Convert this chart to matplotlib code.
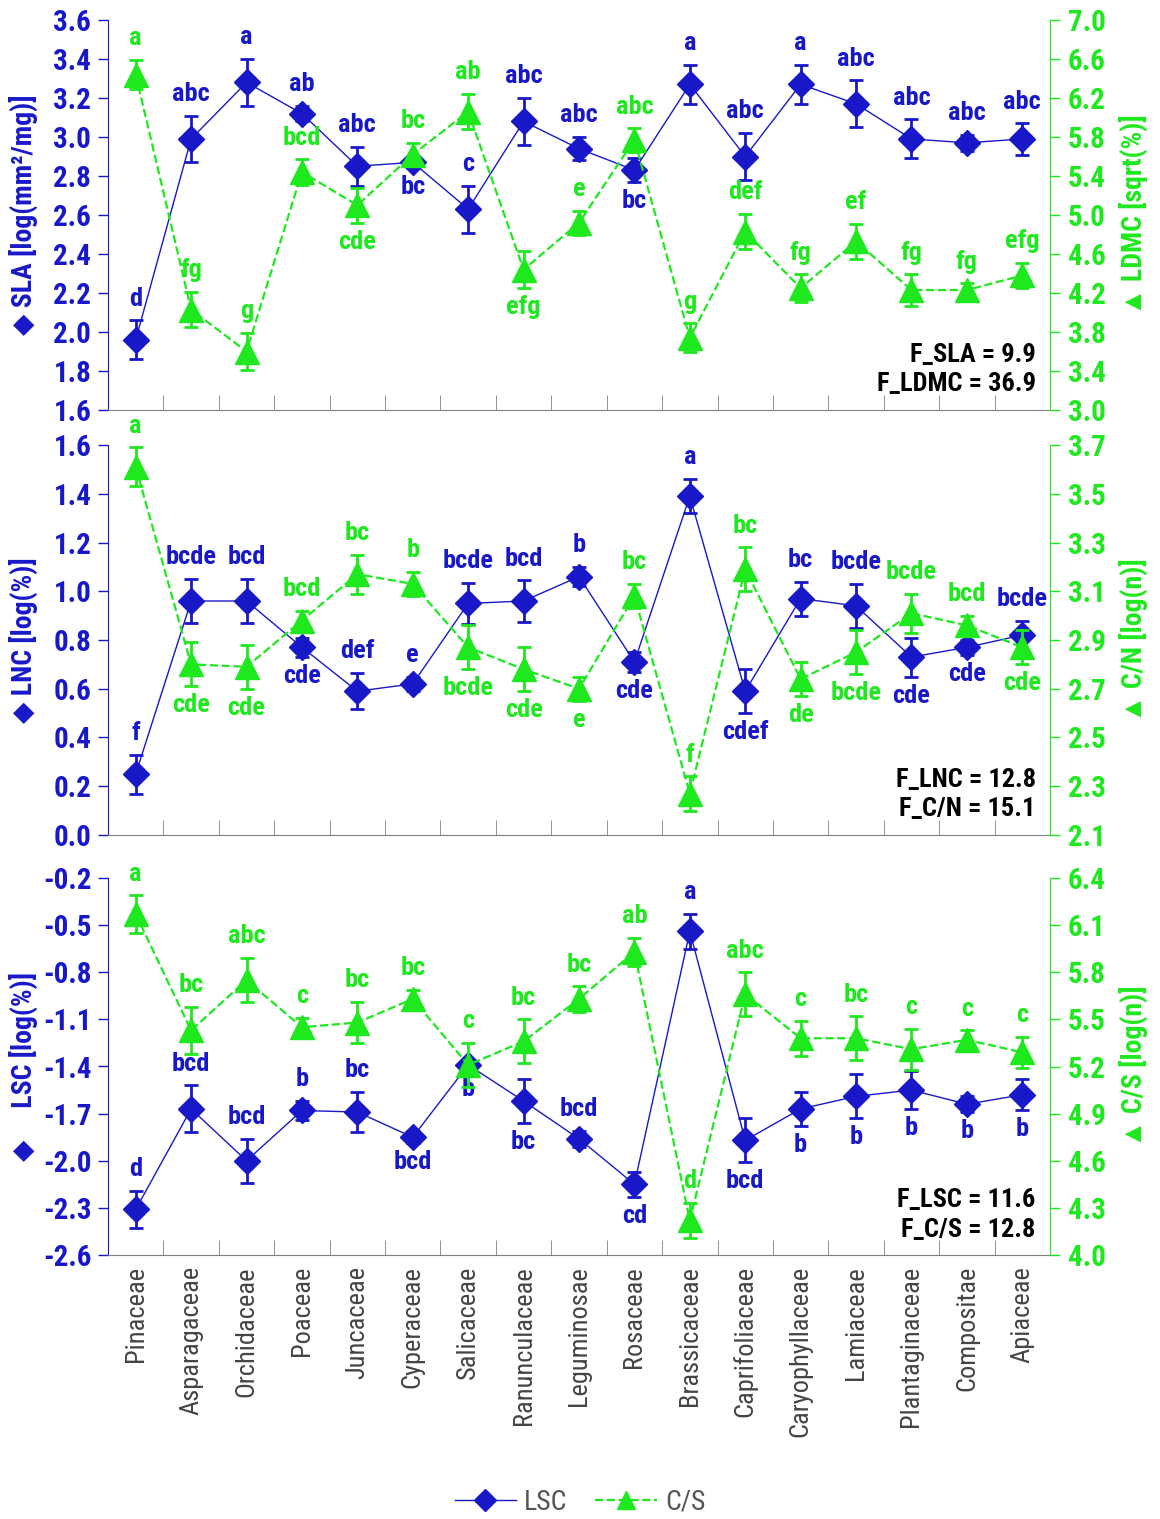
import numpy as np
import matplotlib.pyplot as plt
from matplotlib import font_manager
from matplotlib.lines import Line2D

# pick a narrow sans family if one is installed
installed = {f.name for f in font_manager.fontManager.ttflist}
narrow = [n for n in ['Liberation Sans Narrow', 'Roboto Condensed', 'Noto Sans Condensed',
                      'Open Sans Condensed', 'Noto Sans Display Condensed'] if n in installed]
plt.rcParams['font.family'] = narrow[:1] + ['Liberation Sans', 'DejaVu Sans']
NARROW = bool(narrow)

BLUE = '#1818c8'
GREEN = '#1ee81e'
GREY = '#555555'

families = ['Pinaceae', 'Asparagaceae', 'Orchidaceae', 'Poaceae', 'Juncaceae',
            'Cyperaceae', 'Salicaceae', 'Ranunculaceae', 'Leguminosae', 'Rosaceae',
            'Brassicaceae', 'Caprifoliaceae', 'Caryophyllaceae', 'Lamiaceae',
            'Plantaginaceae', 'Compositae', 'Apiaceae']

# panel 1: SLA (left) and LDMC (right)
sla = [1.96, 2.99, 3.28, 3.12, 2.85, 2.87, 2.63, 3.08, 2.94, 2.83, 3.27, 2.90, 3.27, 3.17, 2.99, 2.97, 2.99]
sla_err = [0.10, 0.12, 0.12, 0.04, 0.10, 0.03, 0.12, 0.12, 0.06, 0.06, 0.10, 0.12, 0.10, 0.12, 0.10, 0.04, 0.08]
sla_let = ['d', 'abc', 'a', 'ab', 'abc', 'bc', 'c', 'abc', 'abc', 'bc', 'a', 'abc', 'a', 'abc', 'abc', 'abc', 'abc']
sla_side = ['u', 'u', 'u', 'u', 'u', 'd', 'u', 'u', 'u', 'd', 'u', 'u', 'u', 'u', 'u', 'u', 'u']

ldmc = [6.44, 4.03, 3.60, 5.44, 5.10, 5.62, 6.06, 4.44, 4.92, 5.77, 3.74, 4.83, 4.25, 4.73, 4.23, 4.23, 4.38]
ldmc_err = [0.15, 0.18, 0.19, 0.13, 0.18, 0.12, 0.18, 0.19, 0.12, 0.12, 0.15, 0.18, 0.14, 0.18, 0.16, 0.07, 0.13]
ldmc_let = ['a', 'fg', 'g', 'bcd', 'cde', 'bc', 'ab', 'efg', 'e', 'abc', 'g', 'def', 'fg', 'ef', 'fg', 'fg', 'efg']
ldmc_side = ['u', 'u', 'u', 'u', 'd', 'u', 'u', 'd', 'u', 'u', 'u', 'u', 'u', 'u', 'u', 'u', 'u']

# panel 2: LNC (left) and C/N (right)
lnc = [0.25, 0.96, 0.96, 0.77, 0.59, 0.62, 0.95, 0.96, 1.06, 0.71, 1.39, 0.59, 0.97, 0.94, 0.73, 0.77, 0.82]
lnc_err = [0.08, 0.09, 0.09, 0.04, 0.075, 0.03, 0.085, 0.085, 0.04, 0.04, 0.07, 0.09, 0.07, 0.09, 0.08, 0.03, 0.06]
lnc_let = ['f', 'bcde', 'bcd', 'cde', 'def', 'e', 'bcde', 'bcd', 'b', 'cde', 'a', 'cdef', 'bc', 'bcde', 'cde', 'cde', 'bcde']
lnc_side = ['u', 'u', 'u', 'd', 'u', 'u', 'u', 'u', 'u', 'd', 'u', 'd', 'u', 'u', 'd', 'd', 'u']

cn = [3.61, 2.80, 2.79, 2.98, 3.17, 3.13, 2.87, 2.78, 2.70, 3.08, 2.27, 3.19, 2.74, 2.85, 3.01, 2.96, 2.87]
cn_err = [0.08, 0.09, 0.09, 0.04, 0.08, 0.05, 0.09, 0.09, 0.05, 0.05, 0.07, 0.09, 0.07, 0.09, 0.08, 0.04, 0.07]
cn_let = ['a', 'cde', 'cde', 'bcd', 'bc', 'b', 'bcde', 'cde', 'e', 'bc', 'f', 'bc', 'de', 'bcde', 'bcde', 'bcd', 'cde']
cn_side = ['u', 'd', 'd', 'u', 'u', 'u', 'd', 'd', 'd', 'u', 'u', 'u', 'd', 'd', 'u', 'u', 'd']

# panel 3: LSC (left) and C/S (right)
lsc = [-2.31, -1.67, -2.00, -1.68, -1.69, -1.85, -1.39, -1.62, -1.86, -2.15, -0.54, -1.87, -1.67, -1.59, -1.55, -1.64, -1.58]
lsc_err = [0.12, 0.15, 0.14, 0.06, 0.13, 0.04, 0.03, 0.14, 0.05, 0.08, 0.11, 0.14, 0.11, 0.14, 0.12, 0.05, 0.10]
lsc_let = ['d', 'bcd', 'bcd', 'b', 'bc', 'bcd', 'b', 'bc', 'bcd', 'cd', 'a', 'bcd', 'b', 'b', 'b', 'b', 'b']
lsc_side = ['u', 'u', 'u', 'u', 'u', 'd', 'd', 'd', 'u', 'd', 'u', 'd', 'd', 'd', 'd', 'd', 'd']

cs = [6.17, 5.43, 5.75, 5.45, 5.48, 5.63, 5.21, 5.36, 5.63, 5.93, 4.22, 5.66, 5.38, 5.38, 5.31, 5.37, 5.29]
cs_err = [0.12, 0.15, 0.14, 0.06, 0.13, 0.06, 0.14, 0.14, 0.08, 0.09, 0.11, 0.14, 0.11, 0.14, 0.13, 0.06, 0.10]
cs_let = ['a', 'bc', 'abc', 'c', 'bc', 'bc', 'c', 'bc', 'bc', 'ab', 'd', 'abc', 'c', 'bc', 'c', 'c', 'c']
cs_side = ['u'] * 17

# sizes: a narrow face can run a bit larger
TICK_FS = 21 if NARROW else 18
LAB_FS = 20 if NARROW else 17
LET_FS = 19 if NARROW else 16
F_FS = 19 if NARROW else 16.5
X_FS = 19 if NARROW else 17

W, H = 1160, 1519
fig = plt.figure(figsize=(W / 100, H / 100), dpi=100)
x = np.arange(len(families))


def px_axes(top, bottom, left=108, right=1050):
    return fig.add_axes([left / W, 1 - bottom / H, (right - left) / W, (bottom - top) / H])


def put_letters(ax, vals, errs, lets, sides, color):
    for xi, v, e, t, s in zip(x, vals, errs, lets, sides):
        if s == 'u':
            ax.annotate(t, (xi, v + e), xytext=(0, 7), textcoords='offset points',
                        ha='center', va='bottom', color=color, fontsize=LET_FS, fontweight='bold')
        else:
            ax.annotate(t, (xi, v - e), xytext=(0, -5), textcoords='offset points',
                        ha='center', va='top', color=color, fontsize=LET_FS, fontweight='bold')


def panel(top, bottom, lv, le, llet, lside, rv, re, rlet, rside,
          lticks, rticks, llabel, rlabel, ftext, show_x=False):
    ax = px_axes(top, bottom)
    ax2 = ax.twinx()

    ax.errorbar(x, lv, yerr=le, fmt='-', marker='D', color=BLUE, ms=13, lw=1,
                elinewidth=2, capsize=5, capthick=2)
    ax2.errorbar(x, rv, yerr=re, fmt='--', marker='^', color=GREEN, ms=17, lw=1.6,
                 elinewidth=2, capsize=5, capthick=2)
    put_letters(ax, lv, le, llet, lside, BLUE)
    put_letters(ax2, rv, re, rlet, rside, GREEN)

    ax.set_xlim(-0.5, len(families) - 0.5)
    ax.set_ylim(lticks[0], lticks[-1])
    ax2.set_ylim(rticks[0], rticks[-1])
    ax.set_yticks(lticks)
    ax2.set_yticks(rticks)
    ax.set_yticklabels(['%.1f' % t for t in lticks], fontweight='bold')
    ax2.set_yticklabels(['%.1f' % t for t in rticks], fontweight='bold')

    ax.spines['top'].set_visible(False)
    ax.spines['right'].set_visible(False)
    ax.spines['left'].set_color(BLUE)
    ax.spines['bottom'].set_color('#808080')
    for s in ['top', 'left', 'bottom']:
        ax2.spines[s].set_visible(False)
    ax2.spines['right'].set_color(GREEN)

    ax.tick_params(axis='y', colors=BLUE, labelsize=TICK_FS, length=7, width=1, pad=5)
    ax2.tick_params(axis='y', colors=GREEN, labelsize=TICK_FS, length=7, width=1, pad=6)

    ax.set_xticks(x)
    ax.set_xticks(np.arange(0.5, len(families) - 1, 1), minor=True)
    ax.tick_params(axis='x', which='major', length=0, pad=8)
    ax.tick_params(axis='x', which='minor', direction='in', length=11, color='#808080')
    if show_x:
        ax.set_xticklabels(families, rotation=90, fontsize=X_FS, color='#444444')
    else:
        ax.set_xticklabels([])

    ax.set_ylabel(llabel, color=BLUE, fontsize=LAB_FS, fontweight='bold')
    ax2.set_ylabel(rlabel, color=GREEN, fontsize=LAB_FS, fontweight='bold')
    ax.yaxis.set_label_coords(-0.074, 0.5)
    ax2.yaxis.set_label_coords(1.073, 0.5)

    ax2.text(0.985, 0.035, ftext, transform=ax2.transAxes, ha='right', va='bottom',
             fontsize=F_FS, fontweight='bold', color='black', linespacing=1.3)
    return ax, ax2


panel(20, 410, sla, sla_err, sla_let, sla_side, ldmc, ldmc_err, ldmc_let, ldmc_side,
      np.round(np.arange(1.6, 3.61, 0.2), 1), np.round(np.arange(3.0, 7.01, 0.4), 1),
      '◆ SLA [log(mm²/mg)]', '▲ LDMC [sqrt(%)]', 'F_SLA = 9.9\nF_LDMC = 36.9')

panel(445, 835, lnc, lnc_err, lnc_let, lnc_side, cn, cn_err, cn_let, cn_side,
      np.round(np.arange(0.0, 1.61, 0.2), 1), np.round(np.arange(2.1, 3.71, 0.2), 1),
      '◆ LNC [log(%)]', '▲ C/N [log(n)]', 'F_LNC = 12.8\nF_C/N = 15.1')

panel(878, 1255, lsc, lsc_err, lsc_let, lsc_side, cs, cs_err, cs_let, cs_side,
      np.round(np.arange(-2.6, -0.19, 0.3), 1), np.round(np.arange(4.0, 6.41, 0.3), 1),
      '◆     LSC [log(%)]', '▲ C/S [log(n)]', 'F_LSC = 11.6\nF_C/S = 12.8', show_x=True)

handles = [Line2D([], [], color=BLUE, lw=1, marker='D', ms=11),
           Line2D([], [], color=GREEN, lw=1.6, ls='--', marker='^', ms=13)]
leg = fig.legend(handles, ['LSC', 'C/S'], loc='center', bbox_to_anchor=(0.5, 0.011),
                 ncol=2, frameon=False, fontsize=LAB_FS, handlelength=2.2,
                 handletextpad=0.3, columnspacing=1.0)
for t in leg.get_texts():
    t.set_color(GREY)

fig.savefig('out.png', dpi=100)
